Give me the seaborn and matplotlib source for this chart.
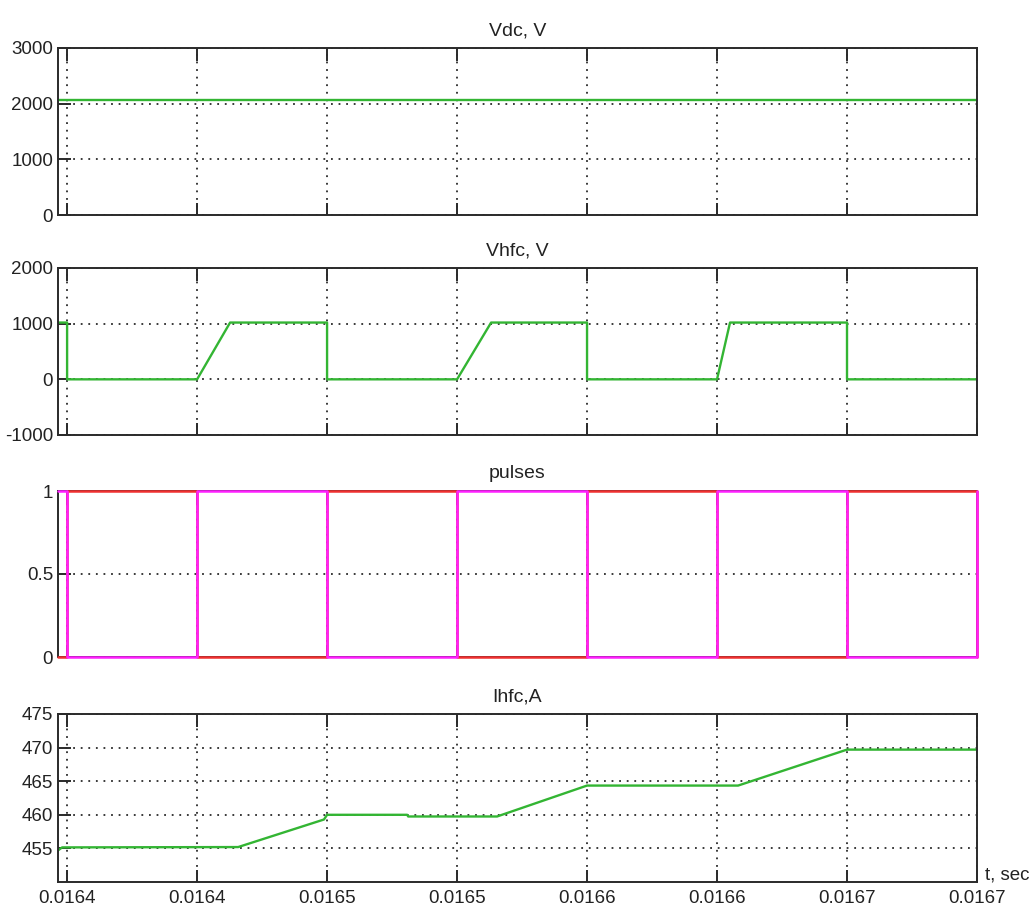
import matplotlib
matplotlib.use("Agg")
import matplotlib.pyplot as plt
import seaborn as sns

# ---- time axis (seconds) ----
t_ticks = [0.01640, 0.01645, 0.01650, 0.01655, 0.01660, 0.01665, 0.01670, 0.01675]
t_tick_labels = ["0.0164", "0.0164", "0.0165", "0.0165",
                 "0.0166", "0.0166", "0.0167", "0.0167"]
t_start = 0.0163965
t_end = 0.01675

# ---- DC link voltage ----
vdc_t = [t_start, t_end]
vdc_v = [2070, 2070]

# ---- high-frequency converter voltage ----
vhfc_t = [t_start, 0.01640, 0.01640, 0.01645, 0.0164627, 0.01650, 0.01650,
          0.01655, 0.0165631, 0.01660, 0.01660, 0.01665, 0.016655, 0.01670,
          0.01670, t_end]
vhfc_v = [1020, 1020, 0, 0, 1020, 1020, 0, 0, 1020, 1020, 0, 0, 1020, 1020, 0, 0]

# ---- gate pulses (complementary pair) ----
pulse_t = [t_start, 0.01640, 0.01645, 0.01650, 0.01655, 0.01660, 0.01665,
           0.01670, 0.01675]
pulse_a = [0, 1, 0, 1, 0, 1, 0, 1, 0]
pulse_b = [1, 0, 1, 0, 1, 0, 1, 0, 1]

# ---- high-frequency converter current ----
ihfc_t = [t_start, 0.0163981, 0.0164658, 0.0164988, 0.01650, 0.0165308,
          0.0165312, 0.0165654, 0.01660, 0.0166581, 0.01670, t_end]
ihfc_v = [454.7, 455.15, 455.2, 459.3, 460.0, 460.0, 459.75, 459.75,
          464.35, 464.35, 469.7, 469.7]

sns.set_style("white")
plt.rcParams["font.family"] = ["Liberation Sans", "DejaVu Sans"]
plt.rcParams["axes.unicode_minus"] = False

W, H = 1032, 910
fig = plt.figure(figsize=(W / 100, H / 100), dpi=100)


def panel(top_px, bottom_px):
    left, right = 58, 977
    return fig.add_axes([left / W, (H - bottom_px) / H,
                         (right - left) / W, (bottom_px - top_px) / H])


GREEN = "#33b533"
RED = "#f03030"
MAGENTA = "#ff20ff"
SPINE = "#2a2a2a"
TEXT = "#222222"


def style(ax, title, yticks, ylim, ylabels=None, show_x=False):
    ax.set_xlim(t_start, t_end)
    ax.set_ylim(*ylim)
    ax.set_xticks(t_ticks)
    ax.set_yticks(yticks)
    if ylabels is not None:
        ax.set_yticklabels(ylabels)
    if show_x:
        ax.set_xticklabels(t_tick_labels)
    else:
        ax.set_xticklabels([])
    ax.set_xlabel("")
    ax.set_ylabel("")
    ax.grid(True, color="#2a2a2a", linestyle=(0, (1, 3.2)), linewidth=1.3)
    ax.set_axisbelow(True)
    for s in ax.spines.values():
        s.set_color(SPINE)
        s.set_linewidth(1.4)
        s.set_visible(True)
    ax.tick_params(axis="both", direction="in", length=9, width=1.4,
                   color=SPINE, labelsize=13.5, labelcolor=TEXT)
    ax.tick_params(axis="x", top=True, bottom=True, pad=6)
    ax.tick_params(axis="y", left=True, right=False, pad=3.5)
    ax.set_title(title, fontsize=14, pad=9, color=TEXT)
    ax.set_facecolor("white")


# Vdc
ax1 = panel(48, 215)
sns.lineplot(x=vdc_t, y=vdc_v, ax=ax1, color=GREEN, linewidth=1.7,
             estimator=None, sort=False)
style(ax1, "Vdc, V", [0, 1000, 2000, 3000], (0, 3000))

# Vhfc
ax2 = panel(268, 435)
sns.lineplot(x=vhfc_t, y=vhfc_v, ax=ax2, color=GREEN, linewidth=1.7,
             estimator=None, sort=False)
style(ax2, "Vhfc, V", [-1000, 0, 1000, 2000], (-1000, 2000))

# pulses
ax3 = panel(491, 657)
sns.lineplot(x=pulse_t, y=pulse_a, ax=ax3, color=RED, linewidth=1.8,
             estimator=None, sort=False, drawstyle="steps-post", clip_on=False,
             zorder=5)
sns.lineplot(x=pulse_t, y=pulse_b, ax=ax3, color=MAGENTA, linewidth=1.8,
             estimator=None, sort=False, drawstyle="steps-post", clip_on=False,
             zorder=6)
style(ax3, "pulses", [0, 0.5, 1], (0, 1), ylabels=["0", "0.5", "1"])

# Ihfc
ax4 = panel(714, 882)
sns.lineplot(x=ihfc_t, y=ihfc_v, ax=ax4, color=GREEN, linewidth=1.7,
             estimator=None, sort=False)
style(ax4, "Ihfc,A", [455, 460, 465, 470, 475], (450, 475), show_x=True)

fig.text(985 / W, (H - 879) / H, "t, sec", fontsize=13.5, ha="left",
         va="baseline", color=TEXT)

fig.savefig("out.png", dpi=100, facecolor="white")
